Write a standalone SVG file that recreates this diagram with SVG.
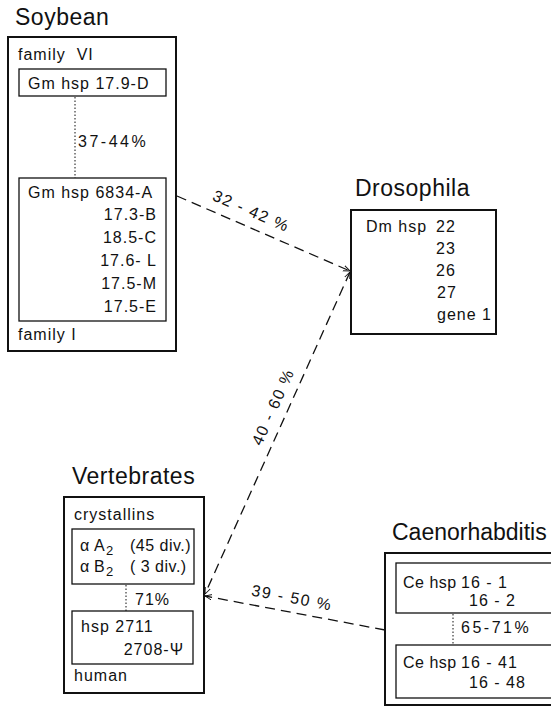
<svg xmlns="http://www.w3.org/2000/svg" width="551" height="708" viewBox="0 0 551 708">
<style>
text{font-family:"Liberation Sans","DejaVu Sans",sans-serif;fill:#111;font-size:16px;letter-spacing:1px;white-space:pre}
.t{font-size:23px;letter-spacing:0.5px}
.pc{letter-spacing:2.5px}
.lb{letter-spacing:1.5px}
.n{letter-spacing:0.5px}
.ob{fill:none;stroke:#111;stroke-width:2}
.ib{fill:none;stroke:#111;stroke-width:1.3}
.dot{stroke:#111;stroke-width:1;stroke-dasharray:1.5 2;fill:none}
.dash{stroke:#111;stroke-width:1.3;stroke-dasharray:10 6;fill:none}
.e{text-anchor:end}
</style>
<defs>
<marker id="ah" viewBox="0 0 10 10" refX="10" refY="5" markerWidth="7" markerHeight="7" orient="auto-start-reverse" markerUnits="userSpaceOnUse">
<path d="M0,1 L10,5 L0,9" fill="none" stroke="#111" stroke-width="1.3"/>
</marker>
</defs>
<rect width="551" height="708" fill="#fff"/>

<g id="connectors">
<line class="dash" x1="177" y1="196" x2="350" y2="271" marker-end="url(#ah)"/>
<text class="lb" transform="translate(249,216) rotate(23.4)" text-anchor="middle">32 - 42 %</text>
<line class="dash" x1="350" y1="272" x2="205" y2="594" marker-start="url(#ah)" marker-end="url(#ah)"/>
<text class="lb" transform="translate(278,409) rotate(-65.8)" text-anchor="middle">40 - 60 %</text>
<line class="dash" x1="385" y1="630" x2="205" y2="596" marker-end="url(#ah)"/>
<text class="lb" transform="translate(291,603) rotate(10.6)" text-anchor="middle">39 - 50 %</text>
</g>

<g id="soybean">
<text class="t" x="15" y="25">Soybean</text>
<rect class="ob" x="8" y="37" width="168" height="314"/>
<text x="18" y="60">family  VI</text>
<rect class="ib" x="19" y="69" width="147" height="27"/>
<text x="28" y="89">Gm hsp 17.9-D</text>
<line class="dot" x1="75" y1="97" x2="75" y2="178"/>
<text class="pc" x="78" y="147">37-44%</text>
<rect class="ib" x="19" y="178" width="147" height="143"/>
<text x="28" y="198">Gm hsp 6834-A</text>
<text class="e" x="157" y="220">17.3-B</text>
<text class="e" x="157" y="243">18.5-C</text>
<text class="e" x="157" y="266">17.6- L</text>
<text class="e" x="157" y="289">17.5-M</text>
<text class="e" x="157" y="312">17.5-E</text>
<text x="18" y="340">family I</text>
</g>

<g id="drosophila">
<text class="t" x="355" y="196">Drosophila</text>
<rect class="ob" x="351" y="210" width="145" height="124"/>
<text x="366" y="232">Dm hsp</text>
<text x="436" y="232">22</text>
<text x="436" y="254">23</text>
<text x="436" y="276">26</text>
<text x="437" y="298">27</text>
<text x="437" y="320">gene 1</text>
</g>

<g id="vertebrates">
<text class="t" x="72" y="484">Vertebrates</text>
<rect class="ob" x="64" y="497" width="140" height="196"/>
<text x="74" y="520">crystallins</text>
<rect class="ib" x="72" y="529" width="122" height="55"/>
<text class="n" x="80" y="551">α<tspan x="94">A</tspan><tspan x="106" dy="4" font-size="13">2</tspan><tspan x="130" dy="-4">(45 div.)</tspan></text>
<text class="n" x="80" y="572">α<tspan x="94">B</tspan><tspan x="106" dy="4" font-size="13">2</tspan><tspan x="130" dy="-4">( 3 div.)</tspan></text>
<line class="dot" x1="126" y1="585" x2="126" y2="611"/>
<text x="135" y="605">71%</text>
<rect class="ib" x="72" y="611" width="121" height="53"/>
<text x="81" y="632">hsp 2711</text>
<text class="e" x="184" y="655">2708-Ψ</text>
<text x="74" y="681">human</text>
</g>

<g id="caenorhabditis">
<text class="t" x="392" y="540" style="letter-spacing:0">Caenorhabditis</text>
<rect class="ob" x="385" y="553" width="175" height="152"/>
<rect class="ib" x="396" y="563" width="160" height="50"/>
<text class="n" x="403" y="588">Ce hsp</text>
<text x="461" y="588">16 - 1</text>
<text x="469" y="606">16 - 2</text>
<line class="dot" x1="453" y1="614" x2="453" y2="645"/>
<text class="pc" x="461" y="633">65-71%</text>
<rect class="ib" x="396" y="645" width="160" height="53"/>
<text class="n" x="403" y="668">Ce hsp</text>
<text x="461" y="668">16 - 41</text>
<text x="469" y="688">16 - 48</text>
</g>
</svg>
